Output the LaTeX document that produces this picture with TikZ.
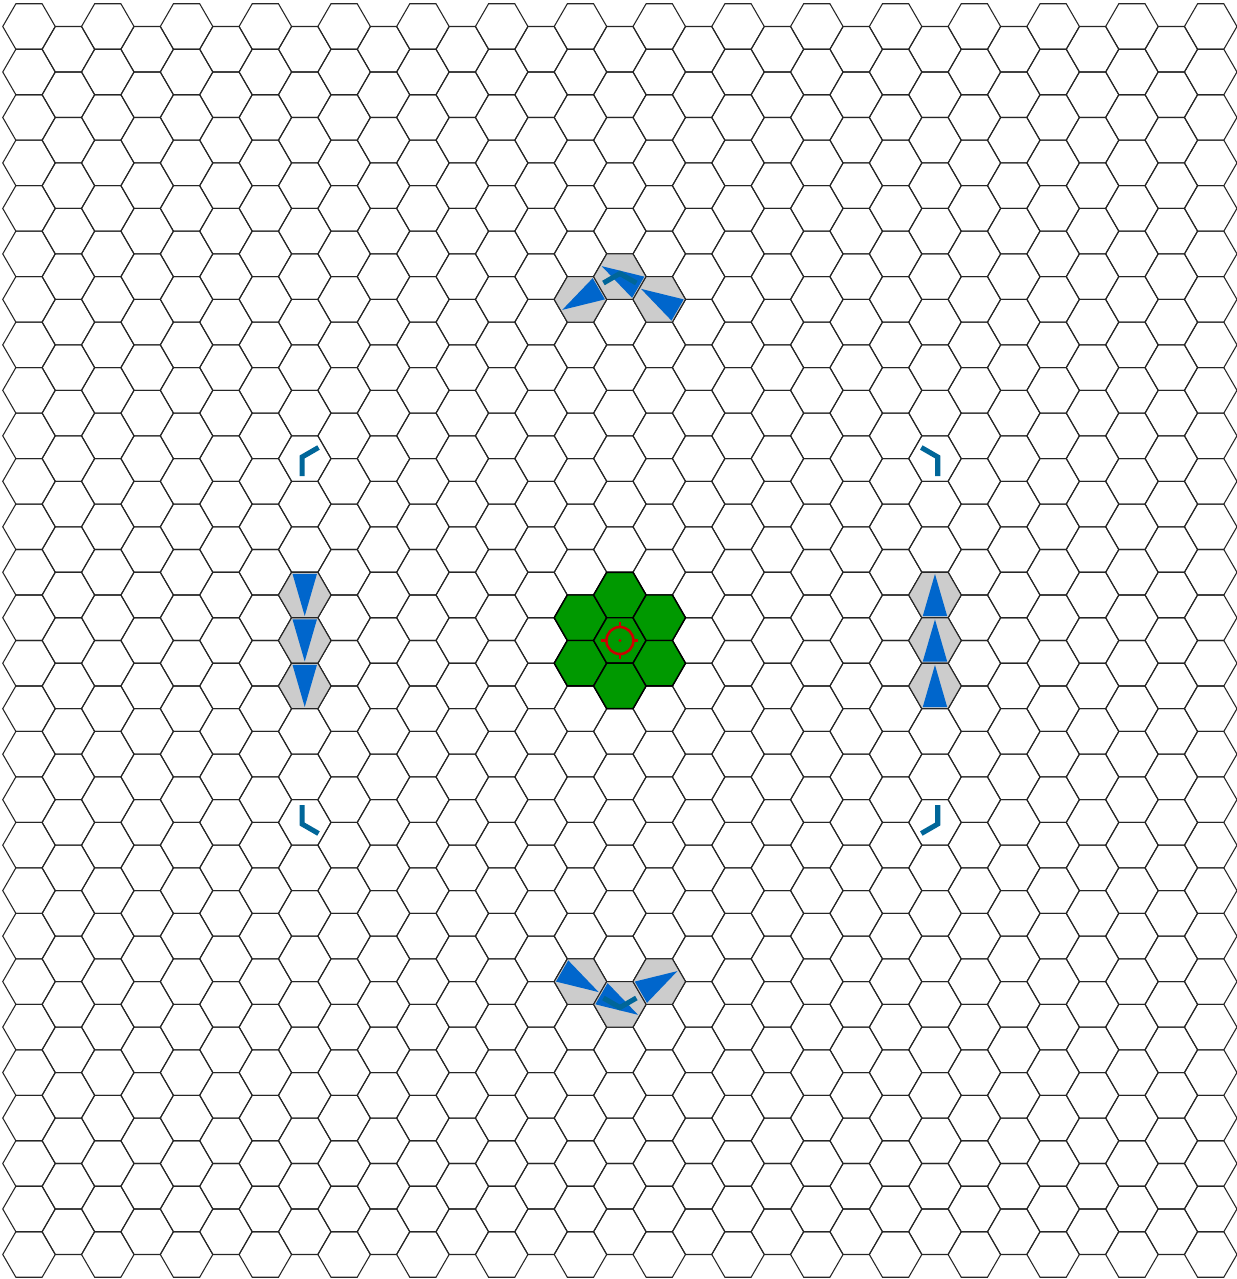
\documentclass[tikz,border=0pt]{standalone}
\usepackage{tikz}
\usetikzlibrary{calc}

\definecolor{conegray}{RGB}{204,204,204}
\definecolor{coneblue}{RGB}{0,102,204}
\definecolor{markteal}{RGB}{0,102,153}
\definecolor{zonegreen}{RGB}{0,153,0}
\definecolor{aimred}{RGB}{204,0,0}

\newcommand{\hexcenter}[2]{%
  \pgfmathsetmacro{\hx}{29+39.39*#1}%
  \pgfmathsetmacro{\hy}{26.5+22.74*mod(#1,2)+45.48*#2}}

\tikzset{
  hexline/.style={draw=black!85, line width=0.8pt},
  zonehex/.style={fill=zonegreen, draw=black, line width=1.1pt},
  conehex/.style={fill=conegray, draw=black!85, line width=0.8pt},
  cone/.style={fill=coneblue},
  corner/.style={draw=markteal, line width=3.8pt},
  aim/.style={draw=aimred, line width=1.9pt}
}

\begin{document}
\begin{tikzpicture}[x=0.75pt, y=-0.75pt]
    \useasboundingbox (0,0) rectangle (1237,1279);
    \fill[white] (0,0) rectangle (1237,1279);

    % map grid
    \foreach \c in {0,...,30} {
        \pgfmathtruncatemacro{\last}{27-mod(\c,2)}
        \foreach \r in {0,...,\last} {
            \hexcenter{\c}{\r}
            \draw[hexline] (\hx,\hy) +(0:26.26) -- +(60:26.26) -- +(120:26.26) -- +(180:26.26) -- +(240:26.26) -- +(300:26.26) -- cycle;
        }
    }

    % target zone
    \foreach \c/\r in {14/13, 14/14, 15/12, 15/13, 15/14, 16/13, 16/14} {
        \hexcenter{\c}{\r}
        \draw[zonehex] (\hx,\hy) +(0:26.26) -- +(60:26.26) -- +(120:26.26) -- +(180:26.26) -- +(240:26.26) -- +(300:26.26) -- cycle;
    }

    % view cones
    \foreach \c/\r/\a in {14/6/210, 15/5/150, 16/6/150,
                          7/12/270, 7/13/270, 7/14/270,
                          23/12/90, 23/13/90, 23/14/90,
                          14/21/330, 15/21/330, 16/21/30} {
        \hexcenter{\c}{\r}
        \draw[conehex] (\hx,\hy) +(0:26.26) -- +(60:26.26) -- +(120:26.26) -- +(180:26.26) -- +(240:26.26) -- +(300:26.26) -- cycle;
        \fill[cone] (\hx,\hy) +(-\a:21) -- +(-\a-150:24.5) -- +(-\a+150:24.5) -- cycle;
    }

    \coordinate (aimpt) at (619.9,640.5);

    % corner marks
    \foreach \a in {30,90,...,330}
        \draw[corner] (aimpt) ++(-\a:367) +(-\a-120:19) -- +(0,0) -- +(-\a+120:19);

    % crosshair
    \draw[aim] (aimpt) circle[radius=13.5];
    \foreach \a in {0,90,180,270}
        \draw[aim] (aimpt) ++(\a:13.5) -- ++(\a:5);
    \fill[aimred] (aimpt) circle[radius=1.6];
\end{tikzpicture}
\end{document}
